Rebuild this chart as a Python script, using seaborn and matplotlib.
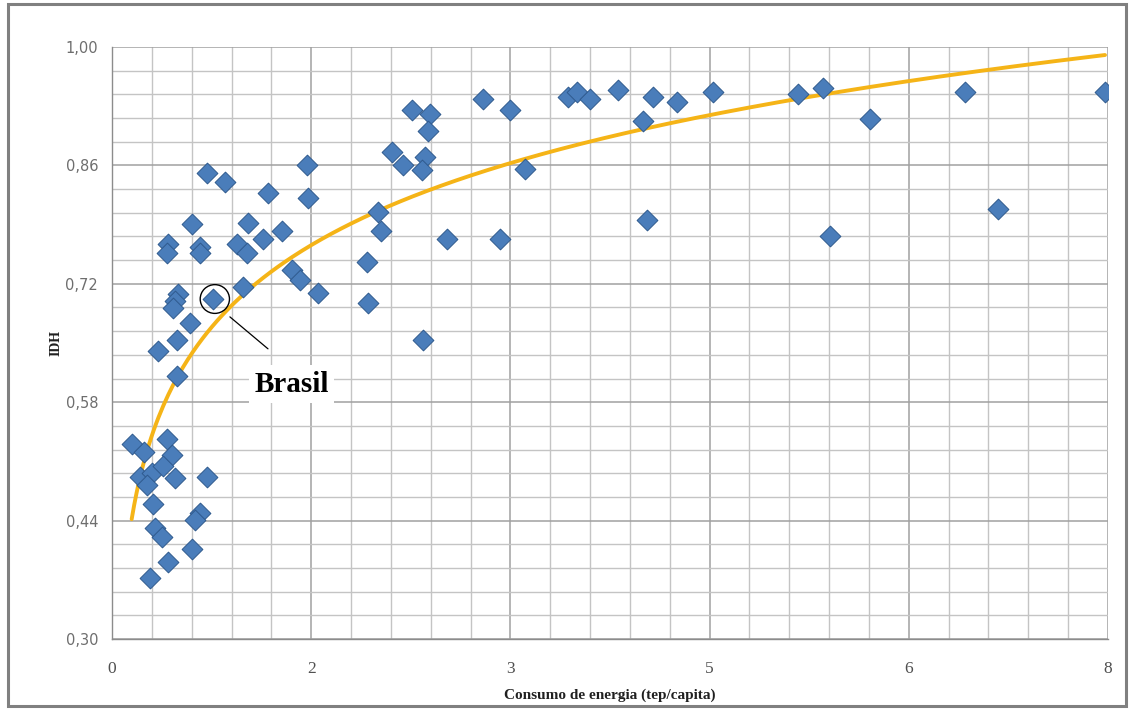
import numpy as np
import pandas as pd
import matplotlib
matplotlib.use("Agg")
import matplotlib.pyplot as plt
import seaborn as sns
from matplotlib.ticker import FixedLocator, FuncFormatter
from matplotlib.patches import Ellipse, Rectangle

# ---- data (energy consumption tep/capita, HDI) ----
consumo = [0.158, 0.257, 0.439, 0.480, 0.225, 0.319, 0.412, 0.506, 0.761, 0.281,
           0.332, 0.707, 0.667, 0.345, 0.399, 0.640, 0.452, 0.305,
           0.533, 0.506, 0.492, 0.814, 0.627, 0.520, 0.372, 0.520, 1.055, 1.443,
           1.510, 1.657, 2.046, 2.059, 2.500,
           0.761, 0.908, 1.255, 1.564, 1.577, 0.640, 1.095, 1.363, 1.215, 0.452,
           0.439, 0.707, 0.707, 1.002, 1.082,
           2.139, 2.159, 2.247, 2.340, 2.514, 2.488, 2.407, 2.554, 2.541, 2.982,
           3.197, 3.317, 2.688, 3.116,
           3.663, 3.735, 3.839, 4.067, 4.348, 4.536, 4.268, 4.830, 4.295, 5.512,
           5.713, 5.767, 6.088, 6.851, 7.119, 7.976]
idh = [0.531, 0.521, 0.537, 0.517, 0.492, 0.496, 0.504, 0.490, 0.492, 0.482,
       0.460, 0.449, 0.441, 0.431, 0.421, 0.407, 0.391, 0.372,
       0.708, 0.700, 0.691, 0.702, 0.674, 0.653, 0.641, 0.611, 0.716, 0.736,
       0.724, 0.709, 0.746, 0.697, 0.653,
       0.851, 0.840, 0.827, 0.860, 0.821, 0.791, 0.792, 0.783, 0.773, 0.767,
       0.756, 0.763, 0.756, 0.767, 0.757,
       0.805, 0.783, 0.876, 0.860, 0.870, 0.855, 0.926, 0.921, 0.901, 0.939,
       0.926, 0.856, 0.773, 0.773,
       0.941, 0.947, 0.939, 0.949, 0.941, 0.935, 0.913, 0.947, 0.795, 0.945,
       0.951, 0.776, 0.915, 0.947, 0.808, 0.947]
brasil = (0.814, 0.702)

x_ticks = [0.0, 1.6, 3.2, 4.8, 6.4, 8.0]
y_ticks = [0.30, 0.44, 0.58, 0.72, 0.86, 1.00]
x_minor_step = 0.32
y_minor_step = 0.028

df = pd.DataFrame({"consumo": consumo, "idh": idh})

# logarithmic trend line fitted to the data (as the spreadsheet does)
a, b = np.polyfit(np.log(df["consumo"]), df["idh"], 1)
xt = np.linspace(df["consumo"].min(), df["consumo"].max(), 400)
trend = pd.DataFrame({"x": xt, "y": a * np.log(xt) + b})

sns.set_style("white")
plt.rcParams["font.family"] = ["Liberation Serif", "DejaVu Serif"]

fig = plt.figure(figsize=(11.33, 7.11), dpi=100)
ax = fig.add_axes([112 / 1133, 1 - 639 / 711, (1108 - 112) / 1133, (639 - 47) / 711])

# frame of the chart area
fig.patches.append(Rectangle((8 / 1133, 5 / 711), (1126 - 8) / 1133, (704 - 2) / 711,
                             transform=fig.transFigure, fill=False,
                             edgecolor="#808080", linewidth=2.2, zorder=0))

sns.lineplot(data=trend, x="x", y="y", ax=ax, color="#F5B417", linewidth=2.8,
             zorder=2, estimator=None)
sns.scatterplot(data=df, x="consumo", y="idh", ax=ax, marker="D", s=112,
                color="#4A7DBA", edgecolor="#2F5A8E", linewidth=0.7, zorder=3)

ax.set_xlim(0, 8)
ax.set_ylim(0.30, 1.00)
ax.xaxis.set_major_locator(FixedLocator(x_ticks))
ax.yaxis.set_major_locator(FixedLocator(y_ticks))
ax.xaxis.set_minor_locator(FixedLocator(np.arange(0, 8.0001, x_minor_step)))
ax.yaxis.set_minor_locator(FixedLocator(np.arange(0.30, 1.0001, y_minor_step)))
ax.xaxis.set_major_formatter(FuncFormatter(lambda v, p: f"{v:.0f}"))
ax.yaxis.set_major_formatter(FuncFormatter(lambda v, p: f"{v:.2f}".replace(".", ",")))

ax.grid(which="major", color="#A0A0A0", linewidth=1.1)
ax.grid(which="minor", color="#C4C4C4", linewidth=1.0)
ax.set_axisbelow(True)
for s in ["top", "right"]:
    ax.spines[s].set_visible(False)
for s in ["left", "bottom"]:
    ax.spines[s].set_color("#8C8C8C")
    ax.spines[s].set_linewidth(1.0)

ax.tick_params(axis="y", which="major", direction="out", length=5, width=1,
               color="#8C8C8C", pad=5, labelsize=10.5, labelcolor="#6E6E6E")
ax.tick_params(axis="x", which="major", direction="out", length=5, width=1,
               color="#8C8C8C", pad=11, labelsize=12.5, labelcolor="#505050")
ax.tick_params(which="minor", length=0)
for lab in ax.get_yticklabels():
    lab.set_family(["DejaVu Sans"])

ax.set_xlabel("Consumo de energia (tep/capita)", fontsize=11, fontweight="bold",
              color="#202020", labelpad=8)
ax.set_ylabel("IDH", fontsize=10, fontweight="bold", color="#202020", labelpad=2)

# Brasil highlight
ax.add_patch(Ellipse((brasil[0] + 0.012, brasil[1]), width=0.235, height=0.034,
                     fill=False, edgecolor="black", linewidth=1.0, zorder=4))
ax.annotate("", xy=(0.93, 0.683), xytext=(1.27, 0.641),
            arrowprops=dict(arrowstyle="-", color="black", linewidth=0.9), zorder=4)
ax.text(1.44, 0.601, "Brasil", fontsize=21, fontweight="bold", ha="center",
        va="center", color="black", zorder=5,
        bbox=dict(facecolor="white", edgecolor="none", pad=4))

fig.savefig("out.png", dpi=100)
